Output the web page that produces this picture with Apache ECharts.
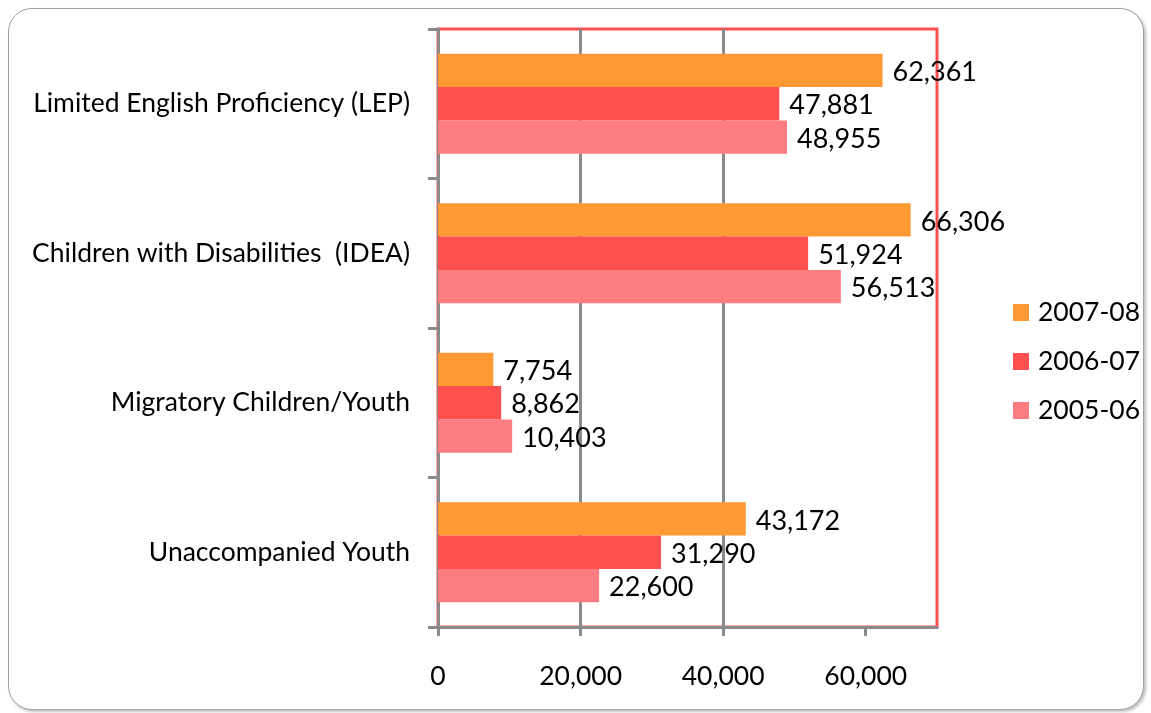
<!DOCTYPE html>
<html>
<head>
<meta charset="utf-8">
<script src="https://cdn.jsdelivr.net/npm/echarts@6/dist/echarts.min.js"></script>
<style>
html,body{margin:0;padding:0;background:#fff;}
#frame{position:absolute;left:8px;top:8px;width:1134px;height:700px;border:1px solid #a0a0a0;border-radius:24px;box-shadow:2px 2px 3px rgba(0,0,0,0.25);background:#fff;}
#chart{position:absolute;left:0;top:0;width:1151px;height:713px;}
</style>
</head>
<body>
<div id="frame"></div>
<div id="chart"></div>
<script>
const categories = ['Unaccompanied Youth', 'Migratory Children/Youth', 'Children with Disabilities  (IDEA)', 'Limited English Proficiency (LEP)'];
const seriesNames = ['2007-08', '2006-07', '2005-06'];
const values2007 = [43172, 7754, 66306, 62361];
const values2006 = [31290, 8862, 51924, 47881];
const values2005 = [22600, 10403, 56513, 48955];
const xTicks = [0, 20000, 40000, 60000];
const colors = ['#FF9933', '#FF5050', '#FF7C80'];

const FONT = 'Lato';
const FS = 26.5;
const FSV = 27;
const fmt = v => v.toLocaleString('en-US');

const chart = echarts.init(document.getElementById('chart'), null, {renderer: 'canvas'});
const mk = (name, data, color) => ({
  name: name,
  type: 'bar',
  data: data,
  barGap: '0%',
  barCategoryGap: '33%',
  itemStyle: {color: color},
  label: {
    show: true, position: 'right', distance: 10, offset: [0, 2],
    color: '#000', fontFamily: FONT, fontSize: FSV,
    formatter: p => fmt(p.value)
  }
});
chart.setOption({
  animation: false,
  textStyle: {fontFamily: FONT},
  grid: {left: 438, right: 214, top: 29, bottom: 86, show: true, borderColor: '#FF5050', borderWidth: 3, backgroundColor: 'transparent'},
  legend: {
    orient: 'vertical', left: 1008, top: 294,
    itemWidth: 16, itemHeight: 17, itemGap: 22,
    icon: 'rect',
    data: seriesNames,
    textStyle: {fontFamily: FONT, fontSize: FS, lineHeight: 26, color: '#000', padding: [0,0,0,4]}
  },
  xAxis: {
    type: 'value', min: 0, max: 70000, interval: 20000,
    axisLine: {show: true, lineStyle: {color: '#8a8a8a', width: 3}},
    axisTick: {show: true, length: 9, customValues: xTicks, lineStyle: {color: '#8a8a8a', width: 3}},
    splitLine: {show: true, showMinLine: false, showMaxLine: false, lineStyle: {color: '#8a8a8a', width: 3}},
    axisLabel: {
      margin: 36, color: '#000', fontFamily: FONT, fontSize: FS,
      customValues: xTicks,
      formatter: v => xTicks.indexOf(v) >= 0 ? fmt(v) : ''
    }
  },
  yAxis: {
    type: 'category', data: categories,
    axisLine: {show: true, lineStyle: {color: '#8a8a8a', width: 3}},
    axisTick: {show: true, length: 10, lineStyle: {color: '#8a8a8a', width: 3}},
    axisLabel: {margin: 28, color: '#000', fontFamily: FONT, fontSize: FS}
  },
  series: [mk(seriesNames[0], values2007, colors[0]), mk(seriesNames[1], values2006, colors[1]), mk(seriesNames[2], values2005, colors[2])]
});
</script>
</body>
</html>
